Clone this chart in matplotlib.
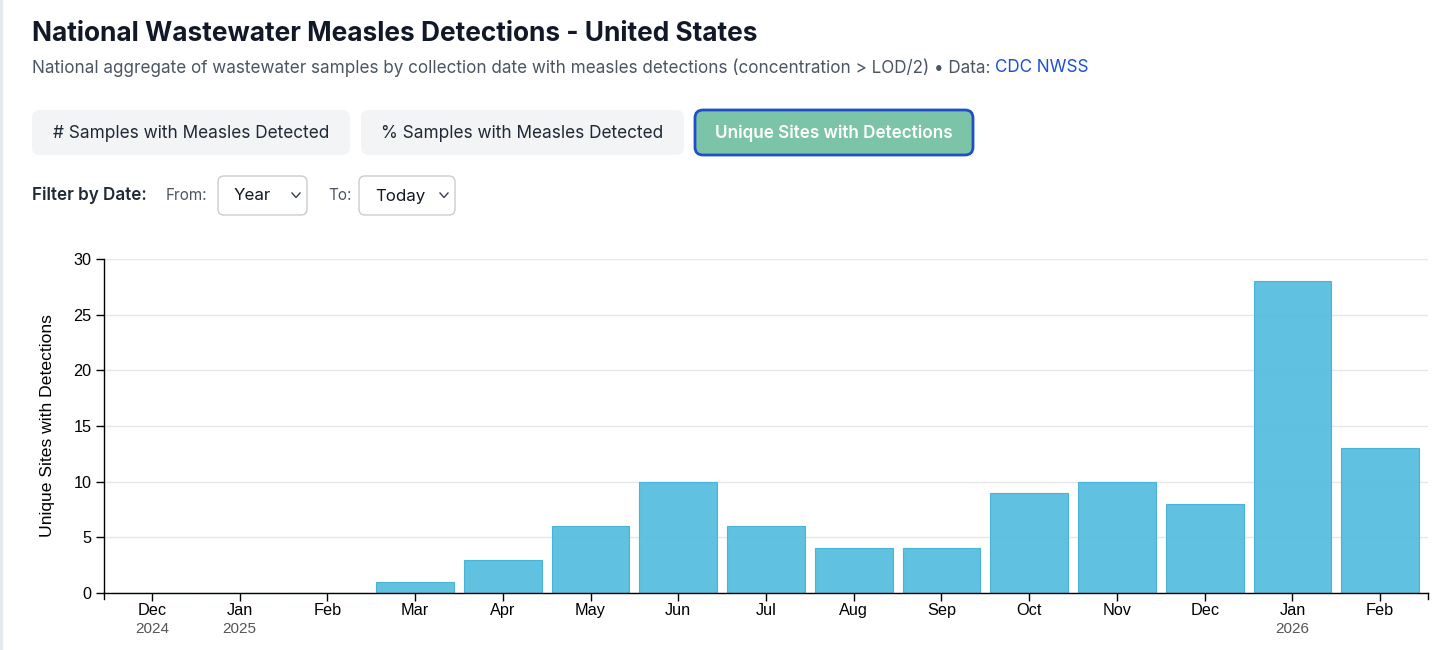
import matplotlib
matplotlib.use("Agg")
import matplotlib.pyplot as plt
from matplotlib.patches import FancyBboxPatch

# data (monthly unique sites with measles detections)
months = ["Dec", "Jan", "Feb", "Mar", "Apr", "May", "Jun", "Jul",
          "Aug", "Sep", "Oct", "Nov", "Dec", "Jan", "Feb"]
years = ["2024", "2025", "", "", "", "", "", "", "", "", "", "", "", "2026", ""]
sites = [0, 0, 0, 1, 3, 6, 10, 6, 4, 4, 9, 10, 8, 28, 13]
yticks = [0, 5, 10, 15, 20, 25, 30]

buttons = ["# Samples with Measles Detected", "% Samples with Measles Detected",
           "Unique Sites with Detections"]

W, H = 1456, 650
fig = plt.figure(figsize=(W / 100, H / 100), dpi=100)
fig.patch.set_facecolor("white")

# overlay in pixel coordinates for the page header / controls
ov = fig.add_axes([0, 0, 1, 1], zorder=0)
ov.set_xlim(0, W)
ov.set_ylim(H, 0)
ov.axis("off")

HEAD = "Inter"
CHART = "Liberation Sans"
ov.plot([1, 1], [0, H], color="#e3eaf0", lw=2.5)

ov.text(32, 34, "National Wastewater Measles Detections - United States",
        fontsize=18.9, fontweight="bold", color="#111827", family=HEAD,
        va="center", ha="left")
sub = ov.text(32, 68, "National aggregate of wastewater samples by collection date with "
              "measles detections (concentration > LOD/2) • Data: ",
              fontsize=12.3, color="#4b5563", family=HEAD, va="center", ha="left")
ov.annotate("CDC NWSS", xy=(1, 0.5), xycoords=sub, va="center", ha="left",
            fontsize=12.3, color="#1d4ed8", family=HEAD)

# toggle buttons
btn_x = [(32, 350), (361, 684), (695, 973)]
for i, (label, (x0, x1)) in enumerate(zip(buttons, btn_x)):
    active = i == 2
    box = FancyBboxPatch((x0, 110), x1 - x0, 45,
                         boxstyle="round,pad=0,rounding_size=8",
                         facecolor="#7bc4a8" if active else "#f3f4f6",
                         edgecolor="#1e4fc9" if active else "none",
                         linewidth=2 if active else 0)
    ov.add_patch(box)
    ov.text((x0 + x1) / 2, 133, label, fontsize=12.4 if not active else 12.3,
            family=HEAD, color="white" if active else "#1f2937",
            fontweight="semibold" if active else "normal",
            ha="center", va="center")

# date filter row
ov.text(32, 195, "Filter by Date:", fontsize=12.3, fontweight="semibold",
        color="#1f2937", family=HEAD, va="center")
ov.text(166, 195, "From:", fontsize=11, color="#4b5563", family=HEAD, va="center")
ov.text(328, 195, "To:", fontsize=11, color="#4b5563", family=HEAD, va="center")
for (x0, x1), label in [((218, 307), "Year"), ((359, 455), "Today")]:
    ov.add_patch(FancyBboxPatch((x0, 176), x1 - x0, 39,
                                boxstyle="round,pad=0,rounding_size=6",
                                facecolor="white", edgecolor="#c9ccd1", linewidth=1))
    ov.text(x0 + 16, 196, label, fontsize=12.2, color="#111827", family=HEAD,
            va="center")
    cx = x1 - 11
    ov.plot([cx - 4, cx, cx + 4], [193, 197.5, 193], color="#374151", lw=1)

# chart
L, R, T, B = 104, 1428, 259, 593
ax = fig.add_axes([L / W, (H - B) / H, (R - L) / W, (B - T) / H], zorder=1)
ax.set_facecolor("none")
x = list(range(len(months)))
ax.bar(x, sites, width=0.885, color="#5bbfdf", alpha=0.97,
       edgecolor="#47b2d8", linewidth=0.8, zorder=2)
ax.set_xlim(-0.545, len(months) - 0.455)
ax.set_ylim(0, 30)
ax.set_yticks(yticks)
ax.grid(axis="y", color="#e5e7eb", linewidth=1, zorder=0)
ax.set_axisbelow(True)
for s in ["top", "right"]:
    ax.spines[s].set_visible(False)
for s in ["left", "bottom"]:
    ax.spines[s].set_color("black")
    ax.spines[s].set_linewidth(1)
    ax.spines[s].set_zorder(3)
ax.set_xticks(x)
ax.set_xticklabels(months)
ax.tick_params(axis="both", length=6, width=1, color="black", labelsize=11.7,
               labelcolor="black", labelfontfamily=CHART)
ax.tick_params(axis="x", pad=1.5)
ax.tick_params(axis="y", pad=3)
for xi, yr in zip(x, years):
    if yr:
        ax.annotate(yr, xy=(xi, 0), xycoords=("data", "axes fraction"),
                    xytext=(0, -36), textcoords="offset pixels", ha="center",
                    va="center", fontsize=11, color="#555555",
                    family=CHART, annotation_clip=False)
ax.set_ylabel("Unique Sites with Detections", fontsize=12.6,
              family=CHART, labelpad=13)

# d3-style outer ticks at both ends of the x axis domain
ov.plot([L, L], [B, B + 6], color="black", lw=1)
ov.plot([R, R], [B, B + 6], color="black", lw=1)

fig.savefig("out.png", dpi=100, facecolor="white")
